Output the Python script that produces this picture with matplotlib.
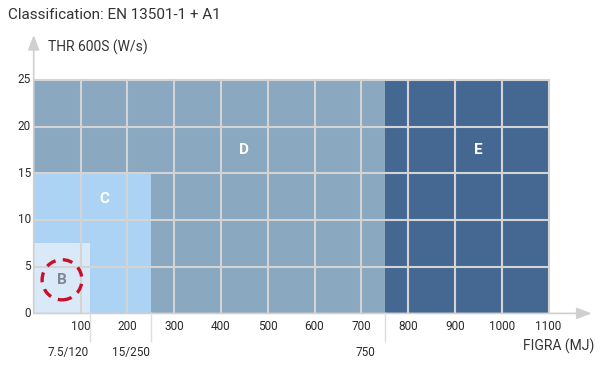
import matplotlib
matplotlib.use("Agg")
import matplotlib.pyplot as plt
from matplotlib.patches import Rectangle, Ellipse

# ---- data ----
classes = ["B", "C", "D", "E"]
figra_min = [0, 0, 0, 750]
figra_max = [120, 250, 750, 1100]
thr_max = [7.5, 15, 25, 25]
class_colors = ["#d9e9f8", "#acd3f3", "#8aa8c0", "#456892"]
label_x = [60, 150, 450, 950]
label_y = [3.6, 12.3, 17.5, 17.5]
label_colors = ["#7f8790", "white", "white", "white"]

x_ticks = [100, 200, 300, 400, 500, 600, 700, 800, 900, 1000, 1100]
y_ticks = [0, 5, 10, 15, 20, 25]
limit_ticks = [120, 250, 750]
limit_labels = ["7.5/120", "15/250", "750"]

title = "Classification: EN 13501-1 + A1"
y_title = "THR 600S (W/s)"
x_title = "FIGRA (MJ)"

FONT = ["Liberation Sans Narrow", "Roboto", "DejaVu Sans"]
plt.rcParams["font.family"] = FONT

fig = plt.figure(figsize=(6.05, 3.65), dpi=100)
left_px, right_px, top_px, bot_px = 33.7, 600, 30, 313.4
ax = fig.add_axes([left_px / 605, (365 - bot_px) / 365,
                   (right_px - left_px) / 605, (bot_px - top_px) / 365])
xmax = (right_px - left_px) / 0.468
ymax = (bot_px - top_px) / 9.34
ax.set_xlim(0, xmax)
ax.set_ylim(0, ymax)
for s in ax.spines.values():
    s.set_visible(False)
ax.set_xticks([])
ax.set_yticks([])

# regions, from largest to smallest
for i in [2, 3, 1, 0]:
    ax.add_patch(Rectangle((figra_min[i], 0), figra_max[i] - figra_min[i], thr_max[i],
                           facecolor=class_colors[i], edgecolor="none", zorder=1))
# grid lines on top
grid_c = "#d4d4d4"
for xv in x_ticks:
    ax.plot([xv, xv], [0, 25], color=grid_c, lw=1.5, zorder=2)
for yv in y_ticks[1:]:
    ax.plot([0, 1100], [yv, yv], color=grid_c, lw=1.5, zorder=2)

# class labels
for i, c in enumerate(classes):
    ax.text(label_x[i], label_y[i], c, color=label_colors[i], fontsize=11,
            fontweight="bold", ha="center", va="center", zorder=7)
# red dashed circle around B
ax.add_patch(Ellipse((60.5, 3.6), 85, 4.3, fill=False, edgecolor="#c8102e",
                     lw=2.4, linestyle=(0, (3, 2.2)), zorder=8))

# axes arrows
axis_c = "#d0d0d0"
ax.annotate("", xy=(1192, 0), xytext=(0, 0),
            arrowprops=dict(arrowstyle="-|>,head_length=0.9,head_width=0.35",
                            color=axis_c, lw=1.2, shrinkA=0, shrinkB=0),
            annotation_clip=False, zorder=6)
ax.annotate("", xy=(0, 29.8), xytext=(0, 0),
            arrowprops=dict(arrowstyle="-|>,head_length=0.9,head_width=0.35",
                            color=axis_c, lw=1.2, shrinkA=0, shrinkB=0),
            annotation_clip=False, zorder=6)

# tick labels
tick_c = "#2a2a2a"
for xv in x_ticks:
    ax.text(xv, -0.7, str(xv), ha="center", va="top", fontsize=8.5, color=tick_c,
            clip_on=False)
for yv in y_ticks:
    ax.text(-6, yv, str(yv), ha="right", va="center", fontsize=8.5, color=tick_c,
            clip_on=False)
for k, (xv, lab) in enumerate(zip(limit_ticks, limit_labels)):
    ax.plot([xv, xv], [0, -3.0], color="#dedede", lw=1, clip_on=False, zorder=6)
    off = 2 if k < 2 else 20
    ax.text(xv - off, -4.2, lab, ha="right", va="center", fontsize=8.5, color=tick_c,
            clip_on=False)

fig.text(8 / 605, 1 - 15 / 365, title, fontsize=11, color="#333333", ha="left", va="center")
fig.text(48 / 605, 1 - 47 / 365, y_title, fontsize=10, color="#333333", ha="left", va="center")
fig.text(594 / 605, 1 - 346 / 365, x_title, fontsize=10, color="#333333", ha="right", va="center")

fig.savefig("out.png", dpi=100)
